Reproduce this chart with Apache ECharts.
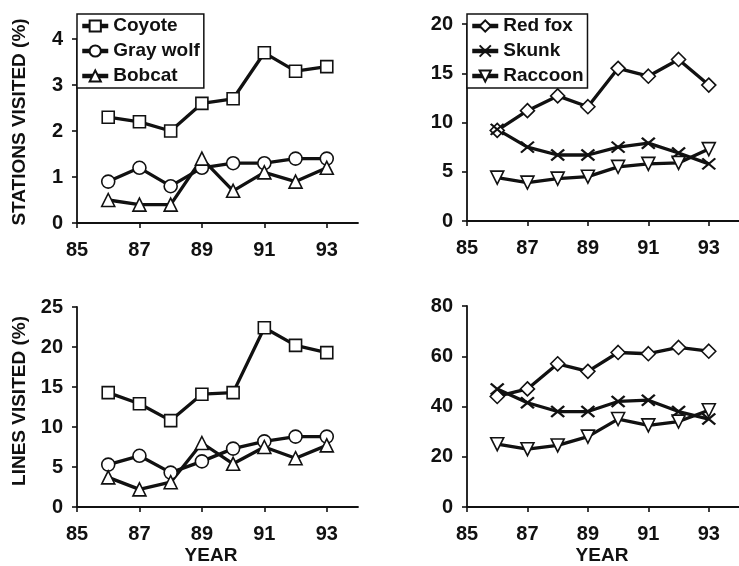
<!DOCTYPE html>
<html>
<head>
<meta charset="utf-8">
<script src="https://cdn.jsdelivr.net/npm/echarts@6/dist/echarts.min.js"></script>
<style>
  html, body { margin: 0; padding: 0; background: #fff; }
  #chart { width: 739px; height: 566px; }
</style>
</head>
<body>
<div id="chart"></div>
<script>
// Survey years (19xx)
const years = [86, 87, 88, 89, 90, 91, 92, 93];
const yearTicks = [85, 87, 89, 91, 93];

// Scent stations visited (%)
const coyoteStations   = [2.3, 2.2, 2.0, 2.6, 2.7, 3.7, 3.3, 3.4];
const grayWolfStations = [0.9, 1.2, 0.8, 1.2, 1.3, 1.3, 1.4, 1.4];
const bobcatStations   = [0.5, 0.4, 0.4, 1.4, 0.7, 1.1, 0.9, 1.2];
const redFoxStations   = [9.2, 11.2, 12.7, 11.6, 15.5, 14.7, 16.4, 13.8];
const skunkStations    = [9.3, 7.5, 6.7, 6.7, 7.5, 7.9, 6.9, 5.8];
const raccoonStations  = [4.4, 3.9, 4.3, 4.5, 5.5, 5.8, 5.9, 7.3];

// Survey lines visited (%)
const coyoteLines   = [14.3, 12.9, 10.8, 14.1, 14.3, 22.4, 20.2, 19.3];
const grayWolfLines = [5.3, 6.4, 4.3, 5.7, 7.3, 8.2, 8.8, 8.8];
const bobcatLines   = [3.7, 2.2, 3.1, 8.0, 5.4, 7.5, 6.1, 7.7];
const redFoxLines   = [44, 47, 57, 54, 61.5, 61, 63.5, 62];
const skunkLines    = [47, 41.5, 38, 38, 42, 42.5, 38, 35];
const raccoonLines  = [25, 23, 24.5, 28, 35, 32.5, 34, 38.5];

// Y-axis ranges per panel: [max, interval]
const yRanges = [[4, 1], [20, 5], [25, 5], [80, 20]];

const FONT = '"Liberation Sans", Arial, sans-serif';
const INK = '#111';

const pair = (vals) => years.map((y, i) => [y, vals[i]]);

const markers = {
  'Coyote':    { symbol: 'rect', symbolSize: 12 },
  'Gray wolf': { symbol: 'circle', symbolSize: 13 },
  'Bobcat':    { symbol: 'triangle', symbolSize: 13 },
  'Red fox':   { symbol: 'diamond', symbolSize: 14 },
  'Skunk':     { symbol: 'path://M0,0L14,12M14,0L0,12', symbolSize: [13, 11], x: true },
  'Raccoon':   { symbol: 'triangle', symbolSize: 13, symbolRotate: 180 }
};

function makeSeries(name, vals, idx) {
  const m = markers[name];
  return {
    type: 'line',
    name: name,
    xAxisIndex: idx,
    yAxisIndex: idx,
    data: pair(vals),
    symbol: m.symbol,
    symbolSize: m.symbolSize,
    symbolRotate: m.symbolRotate || 0,
    showAllSymbol: true,
    lineStyle: { color: INK, width: 3.3 },
    itemStyle: m.x
      ? { color: INK, borderColor: INK, borderWidth: 2.2 }
      : { color: '#fff', borderColor: INK, borderWidth: 1.6 },
    emphasis: { disabled: true },
    animation: false,
    z: 2
  };
}

const grids = [
  { left: 77,  top: 39,  width: 281, height: 184 },
  { left: 467, top: 24,  width: 282, height: 197 },
  { left: 77,  top: 307, width: 281, height: 200 },
  { left: 467, top: 306, width: 282, height: 201 }
];

const axisLineStyle = { show: true, lineStyle: { color: INK, width: 1.8 } };
const labelStyle = { color: INK, fontFamily: FONT, fontWeight: 'bold', fontSize: 20 };

const xAxes = grids.map((g, i) => ({
  type: 'value',
  gridIndex: i,
  min: 85,
  max: 94,
  axisLine: axisLineStyle,
  axisTick: { show: true, customValues: yearTicks, length: 5, lineStyle: { color: INK, width: 1.6 } },
  axisLabel: Object.assign({ customValues: yearTicks, margin: 17 }, labelStyle),
  splitLine: { show: false }
}));

const yAxes = grids.map((g, i) => ({
  type: 'value',
  gridIndex: i,
  min: 0,
  max: yRanges[i][0],
  interval: yRanges[i][1],
  axisLine: axisLineStyle,
  axisTick: { show: true, length: 5, lineStyle: { color: INK, width: 1.6 } },
  axisLabel: Object.assign({ margin: 14 }, labelStyle),
  splitLine: { show: false }
}));

const series = [
  makeSeries('Coyote', coyoteStations, 0),
  makeSeries('Gray wolf', grayWolfStations, 0),
  makeSeries('Bobcat', bobcatStations, 0),
  makeSeries('Red fox', redFoxStations, 1),
  makeSeries('Skunk', skunkStations, 1),
  makeSeries('Raccoon', raccoonStations, 1),
  makeSeries('Coyote', coyoteLines, 2),
  makeSeries('Gray wolf', grayWolfLines, 2),
  makeSeries('Bobcat', bobcatLines, 2),
  makeSeries('Red fox', redFoxLines, 3),
  makeSeries('Skunk', skunkLines, 3),
  makeSeries('Raccoon', raccoonLines, 3)
];

const legendBase = {
  orient: 'vertical',
  top: 14,
  itemWidth: 26,
  itemHeight: 14,
  itemGap: 5,
  padding: [2, 4, 2, 3],
  borderColor: INK,
  borderWidth: 1.5,
  backgroundColor: '#fff',
  selectedMode: false,
  lineStyle: { color: INK, width: 4.5 },
  textStyle: { color: INK, fontFamily: FONT, fontWeight: 'bold', fontSize: 19, lineHeight: 20 },
  z: 5
};

const titleFont = 'bold 19px ' + FONT;

const chart = echarts.init(document.getElementById('chart'), null, { renderer: 'canvas' });
chart.setOption({
  backgroundColor: '#fff',
  animation: false,
  grid: grids,
  xAxis: xAxes,
  yAxis: yAxes,
  legend: [
    Object.assign({ left: 77, data: ['Coyote', 'Gray wolf', 'Bobcat'] }, legendBase),
    Object.assign({ left: 467, data: ['Red fox', 'Skunk', 'Raccoon'] }, legendBase)
  ],
  series: series,
  graphic: [
    { type: 'text', x: 20, y: 122, rotation: Math.PI / 2,
      style: { text: 'STATIONS VISITED (%)', font: titleFont, fill: INK, align: 'center', verticalAlign: 'middle' } },
    { type: 'text', x: 20, y: 401, rotation: Math.PI / 2,
      style: { text: 'LINES VISITED (%)', font: titleFont, fill: INK, align: 'center', verticalAlign: 'middle' } },
    { type: 'text', x: 211, y: 556,
      style: { text: 'YEAR', font: titleFont, fill: INK, align: 'center', verticalAlign: 'middle' } },
    { type: 'text', x: 602, y: 556,
      style: { text: 'YEAR', font: titleFont, fill: INK, align: 'center', verticalAlign: 'middle' } }
  ]
});
</script>
</body>
</html>
